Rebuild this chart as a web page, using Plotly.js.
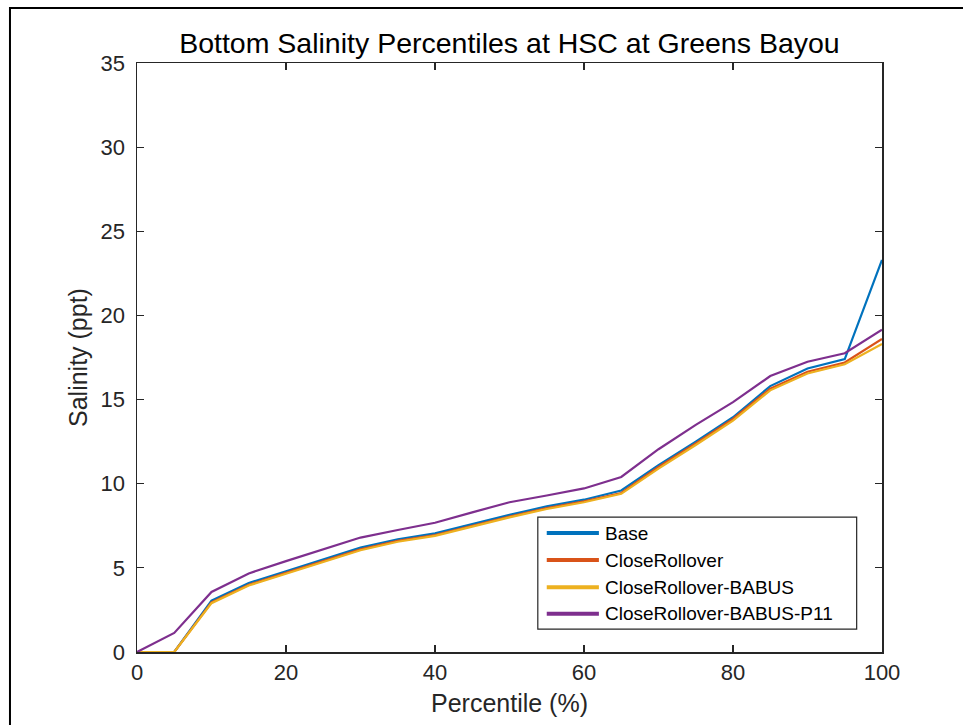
<!DOCTYPE html>
<html>
<head>
<meta charset="utf-8">
<script src="https://cdn.plot.ly/plotly-3.0.1.min.js"></script>
<style>
  html, body { margin: 0; padding: 0; background: #ffffff; }
  #chart { width: 963px; height: 725px; }
</style>
</head>
<body>
<div id="chart"></div>
<script>
// Percentile levels (%)
const percentile = [0, 5, 10, 15, 20, 25, 30, 35, 40, 45, 50, 55, 60, 65, 70, 75, 80, 85, 90, 95, 100];

// Bottom salinity (ppt) for each scenario
const base                  = [0, 0, 3.05, 4.10, 4.80, 5.50, 6.20, 6.70, 7.05, 7.60, 8.15, 8.65, 9.05, 9.60, 11.10, 12.50, 13.95, 15.80, 16.85, 17.40, 23.30];
const closeRollover         = [0, 0, 2.95, 4.00, 4.70, 5.40, 6.10, 6.60, 6.95, 7.50, 8.05, 8.55, 8.95, 9.45, 11.00, 12.40, 13.85, 15.65, 16.65, 17.20, 18.60];
const closeRolloverBabus    = [0, 0, 2.90, 3.95, 4.65, 5.35, 6.05, 6.55, 6.90, 7.45, 8.00, 8.50, 8.90, 9.40, 10.90, 12.30, 13.75, 15.55, 16.55, 17.10, 18.30];
const closeRolloverBabusP11 = [0, 1.13, 3.57, 4.67, 5.40, 6.10, 6.80, 7.25, 7.68, 8.30, 8.90, 9.30, 9.72, 10.40, 12.05, 13.50, 14.85, 16.40, 17.25, 17.75, 19.15];

const seriesNames  = ['Base', 'CloseRollover', 'CloseRollover-BABUS', 'CloseRollover-BABUS-P11'];
const seriesValues = [base, closeRollover, closeRolloverBabus, closeRolloverBabusP11];
const seriesColors = ['#0072BD', '#D95319', '#EDB120', '#7E2F8E'];

const xTicks = [0, 20, 40, 60, 80, 100];
const yTicks = [0, 5, 10, 15, 20, 25, 30, 35];

const FONT = 'Liberation Sans, Arial, Helvetica, sans-serif';
const INK = '#262626';

const traces = seriesValues.map((vals, i) => ({
  type: 'scatter',
  mode: 'lines',
  x: percentile,
  y: vals,
  name: seriesNames[i],
  line: { color: seriesColors[i], width: 2.2 },
  showlegend: false,
  hoverinfo: 'x+y+name'
}));

// Boxed legend in the lower right of the axes (paper coordinates)
const legendBox = { x0: 0.538, x1: 0.966, y0: 0.039, y1: 0.229 };
const legendRows = [0.202, 0.156, 0.110, 0.065];
const shapes = [
  {
    type: 'rect', xref: 'paper', yref: 'paper',
    x0: legendBox.x0, x1: legendBox.x1, y0: legendBox.y0, y1: legendBox.y1,
    line: { color: INK, width: 1.2 }, fillcolor: '#ffffff', layer: 'above'
  },
  // figure frame (left and top edges)
  {
    type: 'path', xref: 'paper', yref: 'paper',
    path: 'M -0.1705,-0.2 L -0.1705,1.0934 L 1.2,1.0934',
    line: { color: '#000000', width: 2 }, layer: 'above'
  }
];
const annotations = [];
seriesNames.forEach((name, i) => {
  shapes.push({
    type: 'line', xref: 'paper', yref: 'paper',
    x0: 0.550, x1: 0.620, y0: legendRows[i], y1: legendRows[i],
    line: { color: seriesColors[i], width: 4 }, layer: 'above'
  });
  annotations.push({
    xref: 'paper', yref: 'paper', x: 0.625, y: legendRows[i],
    xanchor: 'left', yanchor: 'middle', showarrow: false,
    text: name, font: { family: FONT, size: 19, color: '#000000' }
  });
});

const axisCommon = {
  showline: true, linecolor: INK, linewidth: 1.5, mirror: 'ticks',
  ticks: 'inside', ticklen: 7, tickwidth: 1.2, tickcolor: INK,
  showgrid: false, zeroline: false,
  tickfont: { family: FONT, size: 22, color: INK },
  tickmode: 'array'
};

const layout = {
  width: 963, height: 725,
  paper_bgcolor: '#ffffff', plot_bgcolor: '#ffffff',
  margin: { l: 137, r: 81, t: 63, b: 73 },
  title: {
    text: 'Bottom Salinity Percentiles at HSC at Greens Bayou',
    font: { family: FONT, size: 28.5, color: '#000000' },
    x: 0.529, xanchor: 'center', y: 0.94, yanchor: 'middle'
  },
  xaxis: Object.assign({}, axisCommon, {
    range: [0, 100], tickvals: xTicks, ticktext: xTicks.map(String),
    ticklabelstandoff: 0,
    title: { text: 'Percentile (%)', font: { family: FONT, size: 25, color: INK }, standoff: 10 }
  }),
  yaxis: Object.assign({}, axisCommon, {
    range: [0, 35], tickvals: yTicks, ticktext: yTicks.map(String),
    ticklabelstandoff: 6,
    title: { text: 'Salinity (ppt)', font: { family: FONT, size: 25, color: INK }, standoff: 6 }
  }),
  shapes: shapes,
  annotations: annotations,
  showlegend: false
};

Plotly.newPlot('chart', traces, layout, { displayModeBar: false, staticPlot: true });
</script>
</body>
</html>
